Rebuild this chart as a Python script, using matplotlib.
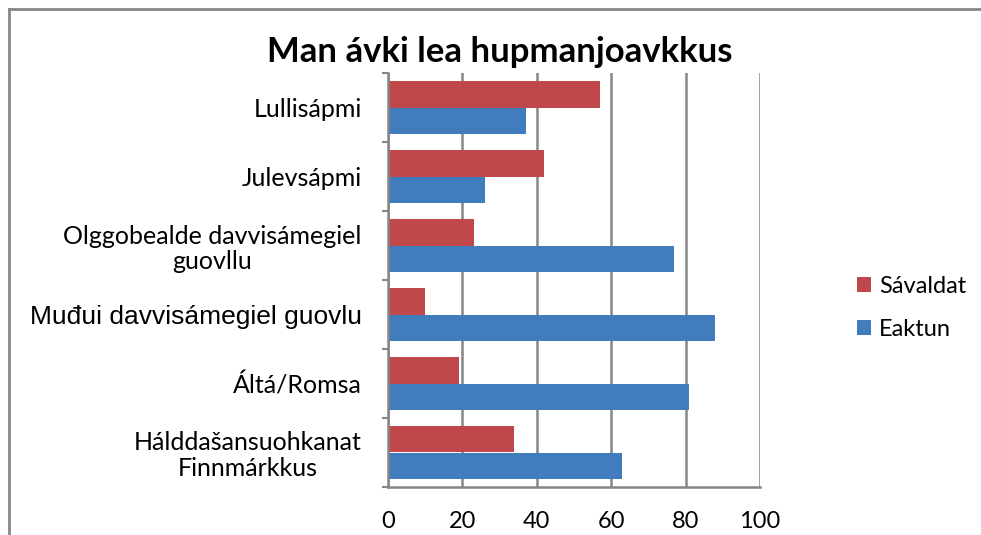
import matplotlib
matplotlib.use('Agg')
import matplotlib.pyplot as plt
import numpy as np
from matplotlib.lines import Line2D

categories = ['Lullisápmi', 'Julevsápmi', 'Olggobealde davvisámegiel\nguovllu',
              'Muđui davvisámegiel guovlu', 'Áltá/Romsa', 'Hálddašansuohkanat\nFinnmárkkus']
savaldat = [57, 42, 23, 10, 19, 34]
eaktun = [37, 26, 77, 88, 81, 63]
xticks = [0, 20, 40, 60, 80, 100]

red = '#C0474A'
blue = '#417DBD'
grey = '#868686'

fig = plt.figure(figsize=(9.81, 5.35), dpi=100)
ax = fig.add_axes([388 / 981, 48 / 535, 372 / 981, 414 / 535])

y = np.arange(len(categories))
h = 0.39
ax.barh(y - h / 2, savaldat, height=h, color=red, label='Sávaldat')
ax.barh(y + h / 2, eaktun, height=h, color=blue, label='Eaktun')

ax.set_ylim(len(categories) - 0.5, -0.5)
ax.set_xlim(0, 100)
ax.set_xticks(xticks)
ax.set_xticklabels([str(v) for v in xticks], fontsize=17, family='Lato')
ax.tick_params(axis='x', length=0, pad=17)
ax.set_yticks(y)
ax.set_yticklabels(categories, fontsize=18, family='Lato', multialignment='center',
                   linespacing=1.15)
ax.tick_params(axis='y', length=0, pad=19)
ax.get_yticklabels()[3].set_family('Liberation Sans')
ax.get_yticklabels()[3].set_fontsize(19)

ax.grid(axis='x', color=grey, linewidth=1.8)
ax.set_axisbelow(True)
for s in ['top', 'right']:
    ax.spines[s].set_visible(False)
for s in ['left', 'bottom']:
    ax.spines[s].set_color(grey)
    ax.spines[s].set_linewidth(1.8)
# little category ticks on the left spine
ax.set_yticks(np.arange(len(categories) + 1) - 0.5, minor=True)
ax.tick_params(axis='y', which='minor', length=4, color=grey, width=1.5)

fig.text(500 / 981, 1 - 52 / 535, 'Man ávki lea hupmanjoavkkus', ha='center', va='center',
         fontsize=25, fontweight='bold', family='Lato')

ax.legend(loc='center left', bbox_to_anchor=(840 / 981, 1 - 308 / 535), bbox_transform=fig.transFigure,
          frameon=False, borderpad=0.2, prop={'family': 'Lato', 'size': 17}, handlelength=0.6,
          handleheight=0.6, handletextpad=0.35, labelspacing=0.95)

# outer chart frame
fig.add_artist(Line2D([9 / 981, 9 / 981], [0, 1 - 9 / 535], color=grey, linewidth=2))
fig.add_artist(Line2D([9 / 981, 1], [1 - 9 / 535, 1 - 9 / 535], color=grey, linewidth=2))

fig.savefig('out.png', dpi=100)
